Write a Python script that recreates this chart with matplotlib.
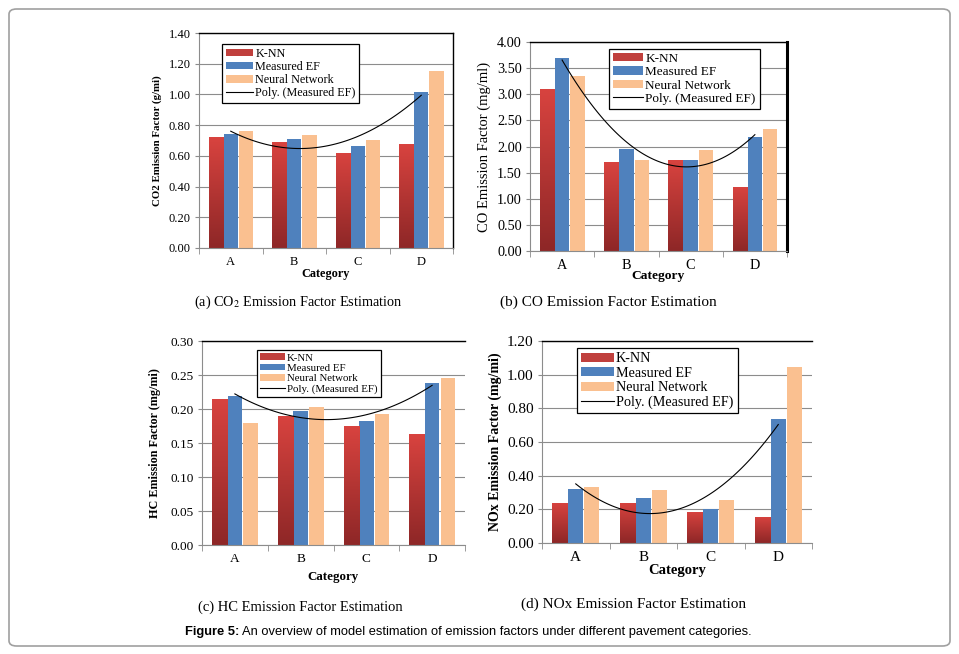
import matplotlib.pyplot as plt
import numpy as np
from matplotlib.patches import FancyBboxPatch
from matplotlib.colors import LinearSegmentedColormap

plt.rcParams['font.family'] = 'Liberation Serif'
plt.rcParams['mathtext.fontset'] = 'stix'

categories = ["A", "B", "C", "D"]
series = ["K-NN", "Measured EF", "Neural Network"]

co2_knn = [0.72, 0.69, 0.62, 0.675]
co2_meas = [0.74, 0.71, 0.665, 1.015]
co2_nn = [0.765, 0.735, 0.705, 1.155]

co_knn = [3.11, 1.70, 1.75, 1.23]
co_meas = [3.70, 1.95, 1.75, 2.18]
co_nn = [3.35, 1.75, 1.93, 2.33]

hc_knn = [0.215, 0.190, 0.175, 0.163]
hc_meas = [0.219, 0.197, 0.182, 0.238]
hc_nn = [0.180, 0.203, 0.193, 0.246]

nox_knn = [0.24, 0.24, 0.185, 0.155]
nox_meas = [0.32, 0.27, 0.20, 0.735]
nox_nn = [0.33, 0.315, 0.255, 1.045]

RED = "#C0403D"
BLUE = "#4F81BD"
TAN = "#FAC090"
red_grad = LinearSegmentedColormap.from_list("rg", ["#8E2727", "#D8433F"])

W, H = 959, 654
fig = plt.figure(figsize=(W / 100, H / 100), dpi=100)

# rounded outer frame
fig.patches.append(FancyBboxPatch((9 / W, 1 - 646 / H), 941 / W, 637 / H,
                                  boxstyle="round,pad=0,rounding_size=0.008",
                                  transform=fig.transFigure, fill=False,
                                  edgecolor="#A0A0A0", lw=1.2))


def px_axes(l, r, t, b):
    return fig.add_axes([l / W, 1 - b / H, (r - l) / W, (b - t) / H])


def panel(ax, knn, meas, nn, ymax, step, ylabel, ylab_bold, ylab_size,
          tick_size, cat_size, leg_box, leg_size, right_spine, right_lw,
          xlab_pad, ylab_x):
    x = np.arange(len(categories))
    w = 0.23
    ax.set_axisbelow(True)
    red_bars = ax.bar(x - w, knn, w, color=RED, label=series[0])
    ax.bar(x, meas, w * 0.97, color=BLUE, label=series[1])
    ax.bar(x + w + 0.01, nn, w * 0.97, color=TAN, label=series[2])
    # gradient on red bars
    grad = np.linspace(0, 1, 100).reshape(-1, 1)
    for b in red_bars:
        im = ax.imshow(grad, cmap=red_grad, origin="lower", aspect="auto",
                       extent=[b.get_x(), b.get_x() + b.get_width(), 0, b.get_height()],
                       zorder=2)
        im.set_clip_path(b)
    # polynomial trendline of measured values
    p = np.polyfit(x, meas, 2)
    xs = np.linspace(0, 3, 100)
    ax.plot(xs, np.polyval(p, xs), color="black", lw=0.8, label="Poly. (Measured EF)")

    ax.set_xlim(-0.5, 3.5)
    ax.set_ylim(0, ymax)
    ax.set_yticks(np.arange(0, ymax + step / 2, step))
    ax.yaxis.set_major_formatter(plt.FormatStrFormatter("%.2f"))
    ax.grid(axis="y", color="#8C8C8C", lw=0.8)
    ax.set_xticks(x)
    ax.set_xticklabels(categories, fontsize=tick_size)
    ax.set_xticks([-0.5, 0.5, 1.5, 2.5, 3.5], minor=True)
    ax.tick_params(axis="x", which="major", length=0, pad=6)
    ax.tick_params(axis="x", which="minor", length=4, color="#8C8C8C")
    ax.tick_params(axis="y", length=3, color="#8C8C8C", labelsize=tick_size, pad=3)
    for s in ["left", "bottom"]:
        ax.spines[s].set_color("#8C8C8C")
    ax.spines["top"].set_color("black")
    ax.spines["top"].set_linewidth(1.0)
    if right_spine:
        ax.spines["right"].set_color("black")
        ax.spines["right"].set_linewidth(right_lw)
    else:
        ax.spines["right"].set_visible(False)
    ax.set_xlabel("Category", fontsize=cat_size, fontweight="bold", labelpad=xlab_pad)
    ax.set_ylabel(ylabel, fontsize=ylab_size,
                  fontweight="bold" if ylab_bold else "normal")
    ax.yaxis.set_label_coords(ylab_x, 0.5)
    handles, labels = ax.get_legend_handles_labels()
    order = [labels.index(s) for s in series] + [labels.index("Poly. (Measured EF)")]
    lx, ly = leg_box
    leg = ax.legend([handles[i] for i in order], [labels[i] for i in order],
                    loc="upper left", bbox_to_anchor=(lx / W, 1 - ly / H),
                    bbox_transform=fig.transFigure, borderaxespad=0,
                    fontsize=leg_size, fancybox=False, framealpha=1,
                    edgecolor="black", handlelength=2.3, handleheight=0.6,
                    handletextpad=0.15, labelspacing=0.1, borderpad=0.3)
    leg.get_frame().set_linewidth(0.9)


ax_a = px_axes(199, 453, 33, 248)
panel(ax_a, co2_knn, co2_meas, co2_nn, 1.4, 0.2, "CO2 Emission Factor (g/mi)",
      True, 7.8, 9, 8.8, (222, 44), 8.7, True, 1.0, 0, -0.146)

ax_b = px_axes(530, 787, 42, 251)
panel(ax_b, co_knn, co_meas, co_nn, 4.0, 0.5, "CO Emission Factor (mg/ml)",
      False, 10.5, 10.3, 9.7, (609, 49), 9.5, True, 2.2, -2, -0.152)

ax_c = px_axes(202, 465, 341, 545)
panel(ax_c, hc_knn, hc_meas, hc_nn, 0.30, 0.05, "HC Emission Factor (mg/mi)",
      True, 8.7, 9.5, 9.3, (257, 350), 7.8, False, 1.0, 4, -0.155)

ax_d = px_axes(542, 812, 341, 543)
panel(ax_d, nox_knn, nox_meas, nox_nn, 1.2, 0.2, "NOx Emission Factor (mg/mi)",
      True, 10, 11, 10.5, (577, 348), 10.2, False, 1.0, 0, -0.148)

# sub captions
fig.text(298 / W, 1 - 302 / H, "(a) CO$_2$ Emission Factor Estimation",
         ha="center", va="center", fontsize=10.3)
fig.text(608 / W, 1 - 302 / H, "(b) CO Emission Factor Estimation",
         ha="center", va="center", fontsize=11)
fig.text(300 / W, 1 - 607 / H, "(c) HC Emission Factor Estimation",
         ha="center", va="center", fontsize=10.5)
fig.text(634 / W, 1 - 604 / H, "(d) NOx Emission Factor Estimation",
         ha="center", va="center", fontsize=11)

# figure caption
t1 = fig.text(185 / W, 1 - 632 / H, "Figure 5:", ha="left", va="center",
              fontsize=9.3, fontweight="bold", family="Liberation Sans")
fig.canvas.draw()
bb = t1.get_window_extent()
fig.text(bb.x1 / W + 3 / W, 1 - 632 / H,
         "An overview of model estimation of emission factors under different pavement categories.",
         ha="left", va="center", fontsize=9.3, family="Liberation Sans")

fig.savefig("out.png", dpi=100)
